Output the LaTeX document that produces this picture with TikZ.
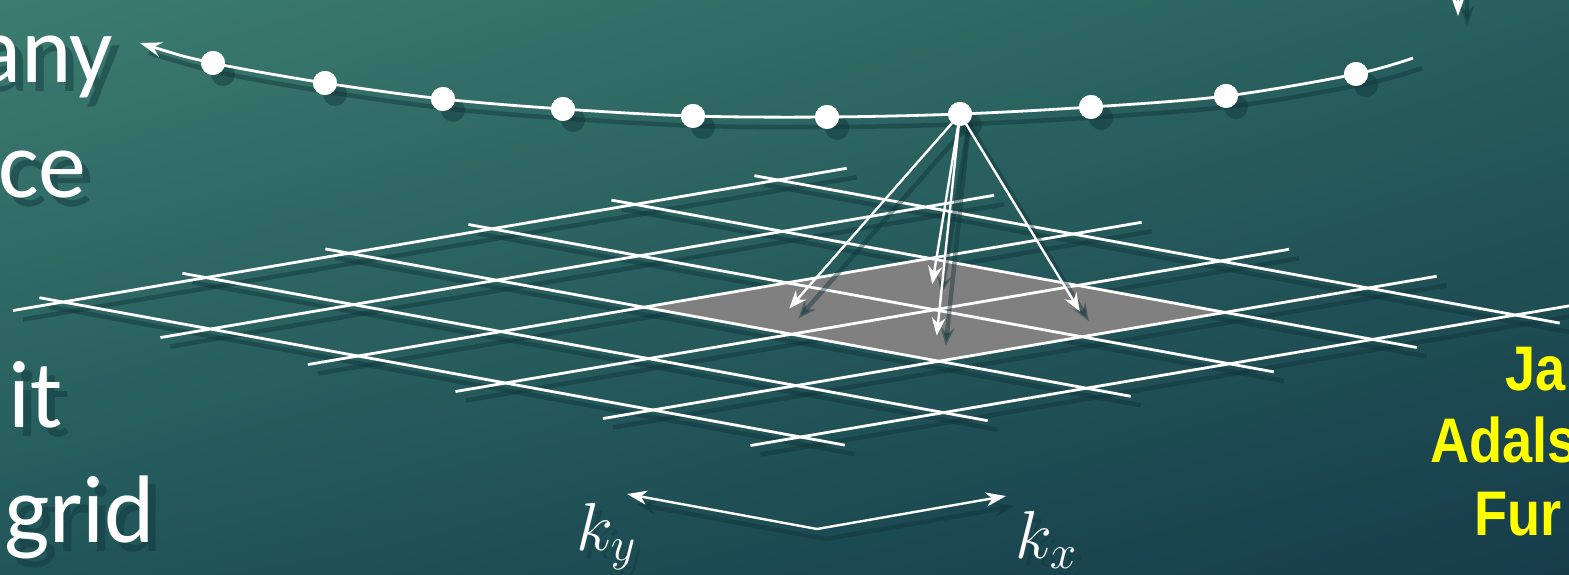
\RequirePackage{fix-cm}
\documentclass[tikz,border=0pt]{standalone}
\usepackage{fontspec}
\newfontfamily\bodyfont{Carlito}
\newfontfamily\namefont{Liberation Sans}
\usetikzlibrary{arrows.meta,shadings}
\definecolor{bgUL}{HTML}{3C7C70}
\definecolor{bgUR}{HTML}{275F5D}
\definecolor{bgLL}{HTML}{215659}
\definecolor{bgLR}{HTML}{163C4A}
\definecolor{shadowc}{HTML}{10343A}
\definecolor{cellgray}{HTML}{808080}
\definecolor{nameyellow}{HTML}{FFFF00}
\begin{document}
\begin{tikzpicture}[x=1pt,y=-1pt,
  gridline/.style={draw=white, line width=2.8pt},
  shadowline/.style={draw=shadowc, line width=4.5pt, opacity=0.45},
  apexarrow/.style={draw=white, line width=2.4pt, -{Stealth[length=18pt,width=14pt,inset=6pt]}},
  apexshadow/.style={shadowline, -{Stealth[length=18pt,width=14pt,inset=6pt]}},
  curveline/.style={draw=white, line width=2.8pt},
  axisarrow/.style={draw=white, line width=2.4pt, -{Stealth[length=20pt,width=14pt,inset=6pt]}},
  axisshadow/.style={shadowline, -{Stealth[length=20pt,width=14pt,inset=6pt]}},
  dotnode/.style={circle, fill=white, inner sep=0pt, minimum size=24pt},
  dotshadow/.style={circle, fill=shadowc, opacity=0.45, inner sep=0pt, minimum size=24pt},
  bodytext/.style={text=white, font=\bodyfont\fontsize{96}{110}\selectfont, inner sep=0pt, anchor=base west},
  bodyshadow/.style={bodytext, text=shadowc, opacity=0.45},
  nametext/.style={text=nameyellow, font=\namefont\bfseries\fontsize{63}{72}\selectfont, inner sep=0pt, anchor=base west},
  mathlabel/.style={text=white, font=\fontsize{68}{80}\selectfont, inner sep=0pt, anchor=base west},
  mathshadow/.style={mathlabel, text=shadowc, opacity=0.35}]

\useasboundingbox (0,0) rectangle (1569,574);
\clip (0,0) rectangle (1569,574);
\shade[upper left=bgUL, upper right=bgUR, lower left=bgLL, lower right=bgLR] (0,0) rectangle (1569,574);

% left text
\node[bodyshadow] (any s) at (-17,91) {any};
\node[bodyshadow] (ce s) at (6,206) {ce};
\node[bodyshadow] (it s) at (16,436) {it};
\node[bodyshadow] (grid s) at (12,551) {grid};
\node[bodytext] (any) at (-25,82) {any};
\node[bodytext] (ce) at (-2,197) {ce};
\node[bodytext] (it) at (8,427) {it};
\node[bodytext] (grid) at (4,542) {grid};

% yellow names
\node[nametext] (n1) at (1505,390) {\scalebox{0.86}[1]{Ja}};
\node[nametext] (n2) at (1430,462) {\scalebox{0.86}[1]{Adals}};
\node[nametext] (n3) at (1474,535) {\scalebox{0.86}[1]{Fur}};

% curve points
\coordinate (cS) at (140,43);
\coordinate (cE) at (1413,58);
\node[dotnode] (d1) at (213,63) {};
\node[dotnode] (d2) at (325,83) {};
\node[dotnode] (d3) at (443,99) {};
\node[dotnode] (d4) at (563,109) {};
\node[dotnode] (d5) at (693,116) {};
\node[dotnode] (d6) at (827,117) {};
\node[dotnode] (d7) at (960,114) {};
\node[dotnode] (d8) at (1091,107) {};
\node[dotnode] (d9) at (1226,96) {};
\node[dotnode] (d10) at (1356,74) {};

% lattice
\begin{scope}[shift={(63,302)}, x={(143pt,24.4pt)}, y={(147.5pt,-27pt)}]
  \begin{scope}[shift={(10pt,-9pt)}]
    \foreach \b in {0,...,5} \draw[shadowline] (-0.35,\b) -- (5.48,\b);
    \foreach \a in {0,...,5} \draw[shadowline] (\a,-0.16) -- (\a,5.3);
  \end{scope}
  \fill[cellgray] (2,2) -- (4,2) -- (4,4) -- (2,4) -- cycle;
  \foreach \b in {0,...,5} \draw[gridline] (-0.35,\b) -- (5.48,\b);
  \foreach \a in {0,...,5} \draw[gridline] (\a,-0.16) -- (\a,5.3);
  \coordinate (cA) at (2.5,2.5);
  \coordinate (cB) at (3.5,2.5);
  \coordinate (cC) at (2.5,3.5);
  \coordinate (cD) at (3.5,3.5);
\end{scope}

% shadows of curve, dots, arrows
\draw[shadowline] plot[smooth, tension=0.55] coordinates {([shift={(9,10)}]cS) ([shift={(9,10)}]d1.center) ([shift={(9,10)}]d2.center) ([shift={(9,10)}]d3.center) ([shift={(9,10)}]d4.center) ([shift={(9,10)}]d5.center) ([shift={(9,10)}]d6.center) ([shift={(9,10)}]d7.center) ([shift={(9,10)}]d8.center) ([shift={(9,10)}]d9.center) ([shift={(9,10)}]d10.center) ([shift={(9,10)}]cE)};
\foreach \d in {d1,d2,d3,d4,d5,d6,d7,d8,d9,d10}
  \node[dotshadow] at ([shift={(10,11)}]\d.center) {};
\foreach \c in {cA,cB,cC,cD}
  \draw[apexshadow] ([shift={(9,10)}]d7.center) -- ([shift={(9,10)}]\c);

% arrows from apex
\foreach \c in {cA,cB,cC,cD}
  \draw[apexarrow] (d7.center) -- (\c);

% curve
\draw[curveline, {Stealth[length=22pt,width=15pt,inset=8pt]}-] plot[smooth, tension=0.55] coordinates {(cS) (d1.center) (d2.center) (d3.center) (d4.center) (d5.center) (d6.center) (d7.center) (d8.center) (d9.center) (d10.center) (cE)};
\foreach \d in {d1,d2,d3,d4,d5,d6,d7,d8,d9,d10}
  \node[dotnode] at (\d.center) {};

% top right partial arrow
\coordinate (trS) at (1458,-40);
\coordinate (trT) at (1458,16);
\draw[axisshadow] ([shift={(9,10)}]trS) -- ([shift={(9,10)}]trT);
\draw[axisarrow] (trS) -- (trT);

% k axes
\coordinate (kv) at (817,529);
\coordinate (kyT) at (627,494);
\coordinate (kxT) at (1006,496);
\draw[axisshadow] ([shift={(9,10)}]kv) -- ([shift={(9,10)}]kyT);
\draw[axisshadow] ([shift={(9,10)}]kv) -- ([shift={(9,10)}]kxT);
\draw[axisarrow] (kv) -- (kyT);
\draw[axisarrow] (kv) -- (kxT);
\node[mathshadow] (ky s) at (583,558) {$k_y$};
\node[mathshadow] (kx s) at (1022,566) {$k_x$};
\node[mathlabel] (ky) at (576,550) {$k_y$};
\node[mathlabel] (kx) at (1015,558) {$k_x$};
\end{tikzpicture}
\end{document}
